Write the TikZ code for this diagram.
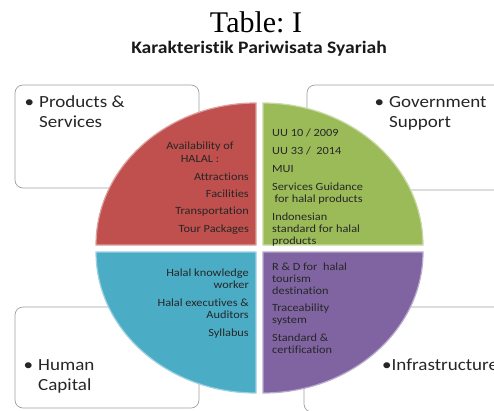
\documentclass[tikz,border=0pt]{standalone}
\usepackage{fontspec}
\setmainfont{Carlito}[FakeStretch=1.12, Ligatures=NoCommon]
\newfontfamily\titlefont{Liberation Serif}
\definecolor{qred}{HTML}{C0504D}
\definecolor{qgreen}{HTML}{9BBB59}
\definecolor{qblue}{HTML}{4BACC6}
\definecolor{qpurple}{HTML}{8064A2}

\begin{document}
\begin{tikzpicture}[
  x=1pt, y=-1pt,
  box/.style={draw=gray!75, line width=0.7pt, rounded corners=8pt,
              fill=white, inner sep=0pt},
  lbl/.style={font=\fontsize{17}{20}\selectfont, align=left,
              inner sep=0pt, text=black!85},
  qtxt/.style={font=\fontsize{11}{11.8}\selectfont, inner sep=0pt,
               text=black!85},
  quad/.style={line width=1.2pt},
]
  \useasboundingbox (0,0) rectangle (494,410);
  \clip (0,0) rectangle (494,410);

  \node[font=\titlefont\fontsize{30}{30}\selectfont, anchor=base] (title) at (256,32) {Table:\ I};
  \node[font=\bfseries\fontsize{17.5}{17.5}\selectfont, anchor=base, text=black!90] (sub) at (259,53) {Karakteristik Pariwisata Syariah};

  % the four boxes, behind the pie
  \node[box, minimum width=184, minimum height=103] (ps) at (107,136.5) {};
  \node[box, minimum width=233, minimum height=105] (gov) at (423.5,137.5) {};
  \node[box, minimum width=184, minimum height=101] (hc) at (107,357.5) {};
  \node[box, minimum width=236, minimum height=105] (infra) at (422,359.5) {};

  % base = last line of each text
  \node[lbl, anchor=base west] (psl) at (39,127) {\llap{\textbullet\hspace{5pt}}Products \&\\Services};
  \node[lbl, anchor=base west] (govl) at (389,127) {\llap{\textbullet\hspace{5pt}}Government\\Support};
  \node[lbl, anchor=base west] (hcl) at (38,390) {\llap{\textbullet\hspace{5pt}}Human\\Capital};
  \node[lbl, anchor=base west] (infral) at (382,370) {\textbullet Infrastructure};

  % pie quarters
  \path[quad, fill=qred, draw=qred!55!white]
    (256,245) -- (96,245) arc[start angle=180, end angle=270, x radius=160, y radius=142] -- cycle;
  \path[quad, fill=qgreen, draw=qgreen!55!white]
    (263,245) -- (263,103) arc[start angle=270, end angle=360, x radius=160, y radius=142] -- cycle;
  \path[quad, fill=qblue, draw=qblue!55!white]
    (256,252) -- (96,252) arc[start angle=180, end angle=90, x radius=160, y radius=141] -- cycle;
  \path[quad, fill=qpurple, draw=qpurple!55!white]
    (263,252) -- (263,393) arc[start angle=90, end angle=0, x radius=160, y radius=141] -- cycle;

  \node[qtxt, align=center, anchor=base, font=\fontsize{11}{13}\selectfont] (redhead) at (200,162) {Availability of\\HALAL :};
  \node[qtxt, align=right, anchor=base east, font=\fontsize{11}{17.3}\selectfont] (redlist) at (249,232)
    {Attractions\\Facilities\\Transportation\\Tour Packages};
  \node[qtxt, align=left, anchor=base west] (greenlist) at (272,244)
    {UU 10 / 2009\\[6.2pt]UU 33 /\ \ 2014\\[6.2pt]MUI\\[6.2pt]Services Guidance\\\hspace{2.5pt}for halal products\\[6.2pt]Indonesian\\standard for halal\\products};
  \node[qtxt, align=right, anchor=base east] (bluelist) at (249,336)
    {Halal knowledge\\worker\\[6.2pt]Halal executives \&\\Auditors\\[6.2pt]Syllabus};
  \node[qtxt, align=left, anchor=base west] (purplelist) at (272,353)
    {R \& D for\ \ halal\\tourism\\destination\\[5.2pt]Traceability\\system\\[6.2pt]Standard \&\\certification};
\end{tikzpicture}
\end{document}
